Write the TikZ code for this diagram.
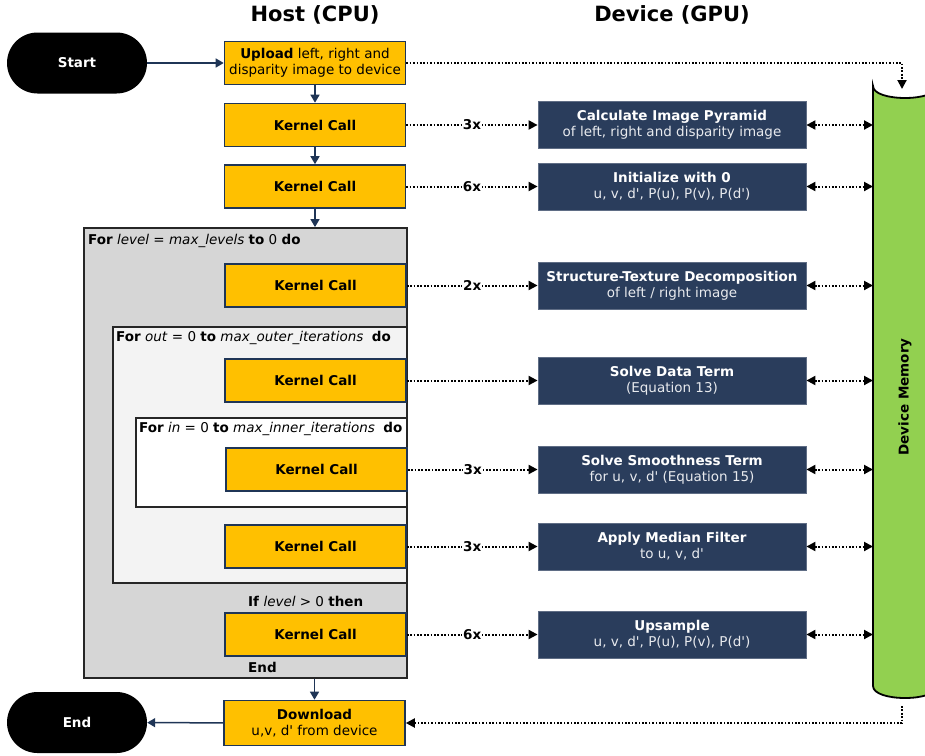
\documentclass[tikz,border=0pt]{standalone}
\usepackage{fontspec}
\setmainfont{DejaVu Sans}[Ligatures=TeXOff]
\usetikzlibrary{arrows.meta}
\definecolor{kyellow}{HTML}{FFC000}
\definecolor{knavy}{HTML}{1F3556}
\definecolor{gnavy}{HTML}{2A3D5C}
\definecolor{mgreen}{HTML}{92D050}
\definecolor{loopA}{HTML}{D6D6D6}
\definecolor{loopB}{HTML}{F3F3F3}
\definecolor{loopline}{HTML}{262626}
\definecolor{subtxt}{HTML}{E8EAEE}
\begin{document}
\begin{tikzpicture}[x=1pt,y=-1pt,
  every node/.style={font=\fontsize{13.5}{16}\selectfont},
  kbox/.style={draw=knavy, line width=1.6pt, fill=kyellow, minimum width=181pt, minimum height=43pt, inner sep=0pt, align=center},
  gbox/.style={fill=gnavy, draw=gnavy!75!white, line width=0.8pt, minimum width=268pt, minimum height=47pt, inner sep=0pt, align=center, text=white},
  term/.style={fill=black, rounded corners=30.5pt, minimum width=140pt, minimum height=61pt, inner sep=0pt, text=white, font=\fontsize{13.5}{16}\selectfont\bfseries},
  loopbox/.style={draw=loopline, line width=1.8pt, inner sep=0pt},
  looplabel/.style={anchor=west, inner sep=0pt},
  flow/.style={draw=knavy, line width=1.5pt, -{Triangle[length=8pt,width=9pt]}},
  dotarrow/.style={draw=black, line width=2pt, dash pattern=on 1.7pt off 1.7pt, -{Triangle[length=9pt,width=9pt]}},
  dotboth/.style={draw=black, line width=2pt, dash pattern=on 1.7pt off 1.7pt, {Triangle[length=9pt,width=9pt]}-{Triangle[length=9pt,width=9pt]}},
  cnt/.style={fill=white, inner sep=1pt, font=\fontsize{13.5}{16}\selectfont\bfseries},
  title/.style={font=\fontsize{21}{24}\selectfont\bfseries}
]
\useasboundingbox (0,0) rectangle (925,755);
\clip (0,0) rectangle (925,755);

% titles
\node[title] (th) at (315,15) {Host (CPU)};
\node[title] (td) at (672,15) {Device (GPU)};

% device memory cylinder
\draw[draw=black, line width=1.8pt, fill=mgreen]
  (873,86) -- (873,686) .. controls (873,702) and (937,702) .. (937,686)
  -- (937,86) .. controls (937,102) and (873,102) .. (873,86) -- cycle;
\node[rotate=90, font=\fontsize{13.5}{16}\selectfont\bfseries] (memlabel) at (905,397) {Device Memory};
\coordinate (memL) at (873,0);
\coordinate (memT) at (902,89);
\coordinate (memB) at (902,706);

% loops
\node[loopbox, fill=loopA, minimum width=323pt, minimum height=450pt] (outer) at (245.5,453) {};
\node[loopbox, fill=loopB, minimum width=294pt, minimum height=256pt] (middle) at (260,455) {};
\node[loopbox, fill=white, minimum width=271pt, minimum height=89pt] (inner) at (271.5,462.5) {};
\node[looplabel] (lo) at (88,241) {\textbf{For} \textit{level} = \textit{max\_levels} \textbf{to} 0 \textbf{do}};
\node[looplabel] (lm) at (116,338) {\textbf{For} \textit{out} = 0 \textbf{to} \textit{max\_outer\_iterations} \ \textbf{do}};
\node[looplabel] (li) at (139,429) {\textbf{For} \textit{in} = 0 \textbf{to} \textit{max\_inner\_iterations} \ \textbf{do}};
\node[looplabel] (lif) at (248,601) {\textbf{If} \textit{level} > 0 \textbf{then}};
\node[looplabel] (lend) at (248,667) {\textbf{End}};

% terminals
\node[term] (start) at (77,63) {Start};
\node[term] (end) at (77,722.5) {End};

% host boxes
\node[kbox] (up) at (315,63) {\textbf{Upload} left, right and\\disparity image to device};
\node[kbox] (k1) at (315,125) {\textbf{Kernel Call}};
\node[kbox] (k2) at (315,186.5) {\textbf{Kernel Call}};
\node[kbox] (k3) at (315.5,285.5) {\textbf{Kernel Call}};
\node[kbox] (k4) at (315.5,380.5) {\textbf{Kernel Call}};
\node[kbox] (k5) at (316.5,469.5) {\textbf{Kernel Call}};
\node[kbox] (k6) at (315.5,546.5) {\textbf{Kernel Call}};
\node[kbox] (k7) at (315.5,634.5) {\textbf{Kernel Call}};
\node[kbox, minimum height=45pt] (dl) at (314.5,723) {\textbf{Download}\\u,v, d' from device};

% device boxes
\node[gbox] (g1) at (672,125) {\textbf{Calculate Image Pyramid}\\{\color{subtxt}of left, right and disparity image}};
\node[gbox] (g2) at (672,186.5) {\textbf{Initialize with 0}\\{\color{subtxt}u, v, d', P(u), P(v), P(d')}};
\node[gbox] (g3) at (672,285.5) {\textbf{Structure-Texture Decomposition}\\{\color{subtxt}of left / right image}};
\node[gbox] (g4) at (672,380.5) {\textbf{Solve Data Term}\\{\color{subtxt}(Equation 13)}};
\node[gbox] (g5) at (672,469.5) {\textbf{Solve Smoothness Term}\\{\color{subtxt}for u, v, d' (Equation 15)}};
\node[gbox] (g6) at (672,546.5) {\textbf{Apply Median Filter}\\{\color{subtxt}to u, v, d'}};
\node[gbox] (g7) at (672,634.5) {\textbf{Upsample}\\{\color{subtxt}u, v, d', P(u), P(v), P(d')}};

% host flow
\draw[flow] (start) -- (up);
\draw[flow] (up) -- (k1);
\draw[flow] (k1) -- (k2);
\draw[flow] (k2.south) -- (k2.south |- outer.north);
\draw[flow] (outer.south -| dl.north) -- (dl.north);
\draw[flow] (dl) -- (end);

% host to device
\draw[dotarrow] (k1.east) -- node[cnt] {3x} (k1.east -| g1.west);
\draw[dotarrow] (k2.east) -- node[cnt] {6x} (k2.east -| g2.west);
\draw[dotarrow] (k3.east) -- node[cnt] {2x} (k3.east -| g3.west);
\draw[dotarrow] (k4.east) -- (k4.east -| g4.west);
\draw[dotarrow] (k5.east) -- node[cnt] {3x} (k5.east -| g5.west);
\draw[dotarrow] (k6.east) -- node[cnt] {3x} (k6.east -| g6.west);
\draw[dotarrow] (k7.east) -- node[cnt] {6x} (k7.east -| g7.west);

% device to memory
\foreach \g in {g1,g2,g3,g4,g5,g6,g7}
  \draw[dotboth] (\g.east) -- (\g.east -| memL);

% upload / download
\draw[dotarrow] (up.east) -| (memT);
\draw[dotarrow] (memB) |- (dl.east);
\end{tikzpicture}
\end{document}
